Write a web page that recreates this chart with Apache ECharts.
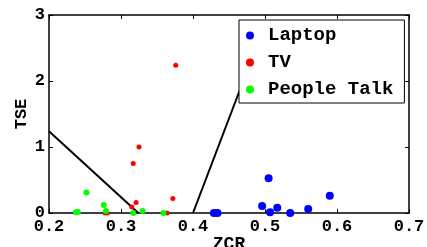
<!DOCTYPE html>
<html>
<head>
<meta charset="utf-8">
<script src="https://cdn.jsdelivr.net/npm/echarts@6/dist/echarts.min.js"></script>
<style>html,body{margin:0;padding:0;background:#fff}#c{width:427px;height:247px}</style>
</head>
<body>
<div id="c"></div>
<script>
var xTicks = [0.2, 0.3, 0.4, 0.5, 0.6, 0.7];
var yTicks = [0, 1, 2, 3];
var laptop = [[0.429, 0.0], [0.434, 0.0], [0.496, 0.106], [0.505, 0.525], [0.507, 0.01], [0.517, 0.08], [0.535, 0.0], [0.560, 0.06], [0.590, 0.26]];
var tv = [[0.376, 2.24], [0.325, 1.0], [0.317, 0.75], [0.321, 0.16], [0.372, 0.22], [0.315, 0.09], [0.278, 0.0], [0.281, 0.0], [0.364, 0.0]];
var people = [[0.252, 0.31], [0.276, 0.12], [0.279, 0.03], [0.2375, 0.01], [0.240, 0.015], [0.317, 0.0], [0.330, 0.03], [0.359, 0.0]];
var boundary1 = [[0.2, 1.24], [0.324, 0.0]];
var boundary2 = [[0.4, 0.0], [0.496, 2.75]];

var FONT = "'Liberation Mono', 'DejaVu Sans Mono', monospace";
var chart = echarts.init(document.getElementById('c'), null, {renderer: 'canvas'});
function axisBase(extra) {
  return Object.assign({
    axisLine: {show: true, onZero: false, lineStyle: {color: '#000', width: 1.5}},
    axisTick: {show: true, inside: true, length: 4, lineStyle: {color: '#000', width: 1}},
    splitLine: {show: false},
    axisLabel: {show: false}
  }, extra);
}
chart.setOption({
  animation: false,
  backgroundColor: '#fff',
  grid: {left: 49, right: 18, top: 15, bottom: 34, containLabel: false, outerBoundsMode: 'none'},
  xAxis: [
    axisBase({type: 'value', min: xTicks[0], max: xTicks[xTicks.length - 1], interval: 0.1, position: 'bottom',
      name: 'ZCR', nameLocation: 'middle', nameGap: 22, nameMoveOverlap: false,
      nameTextStyle: {fontFamily: FONT, fontWeight: 'bold', fontSize: 18, color: '#000', verticalAlign: 'top'},
      axisLabel: {show: true, margin: 5, fontFamily: FONT, fontWeight: 'bold', fontSize: 17, color: '#000',
        formatter: function (v) { return v.toFixed(1); }, showMinLabel: true, showMaxLabel: true}}),
    axisBase({type: 'value', min: xTicks[0], max: xTicks[xTicks.length - 1], interval: 0.1, position: 'top'})
  ],
  yAxis: [
    axisBase({type: 'value', min: yTicks[0], max: yTicks[yTicks.length - 1], interval: 1, position: 'left',
      name: 'TSE', nameLocation: 'middle', nameGap: 19, nameRotate: 90, nameMoveOverlap: false,
      nameTextStyle: {fontFamily: FONT, fontWeight: 'bold', fontSize: 17, color: '#000'},
      axisLabel: {show: true, margin: 4, fontFamily: FONT, fontWeight: 'bold', fontSize: 17, color: '#000'}}),
    axisBase({type: 'value', min: yTicks[0], max: yTicks[yTicks.length - 1], interval: 1, position: 'right'})
  ],
  legend: {
    orient: 'vertical', left: 239, top: 20,
    backgroundColor: '#fff', borderColor: '#000', borderWidth: 1,
    padding: [6, 11, 4, 7], itemGap: 8,
    itemWidth: 26, itemHeight: 8,
    textStyle: {fontFamily: FONT, fontWeight: 'bold', fontSize: 19, color: '#000'},
    data: [
      {name: 'Laptop', icon: 'circle'},
      {name: 'TV', icon: 'circle'},
      {name: 'People Talk', icon: 'circle'}
    ]
  },
  series: [
    {type: 'line', data: boundary1, symbol: 'none', lineStyle: {color: '#000', width: 2}, silent: true, z: 1},
    {type: 'line', data: boundary2, symbol: 'none', lineStyle: {color: '#000', width: 2}, silent: true, z: 1},
    {name: 'Laptop', type: 'scatter', data: laptop, symbolSize: 8, itemStyle: {color: '#0000ff', opacity: 1}},
    {name: 'TV', type: 'scatter', data: tv, symbolSize: 5, itemStyle: {color: '#ff0000', opacity: 1}},
    {name: 'People Talk', type: 'scatter', data: people, symbolSize: 6, itemStyle: {color: '#00ff00', opacity: 1}}
  ]
});
</script>
</body>
</html>
